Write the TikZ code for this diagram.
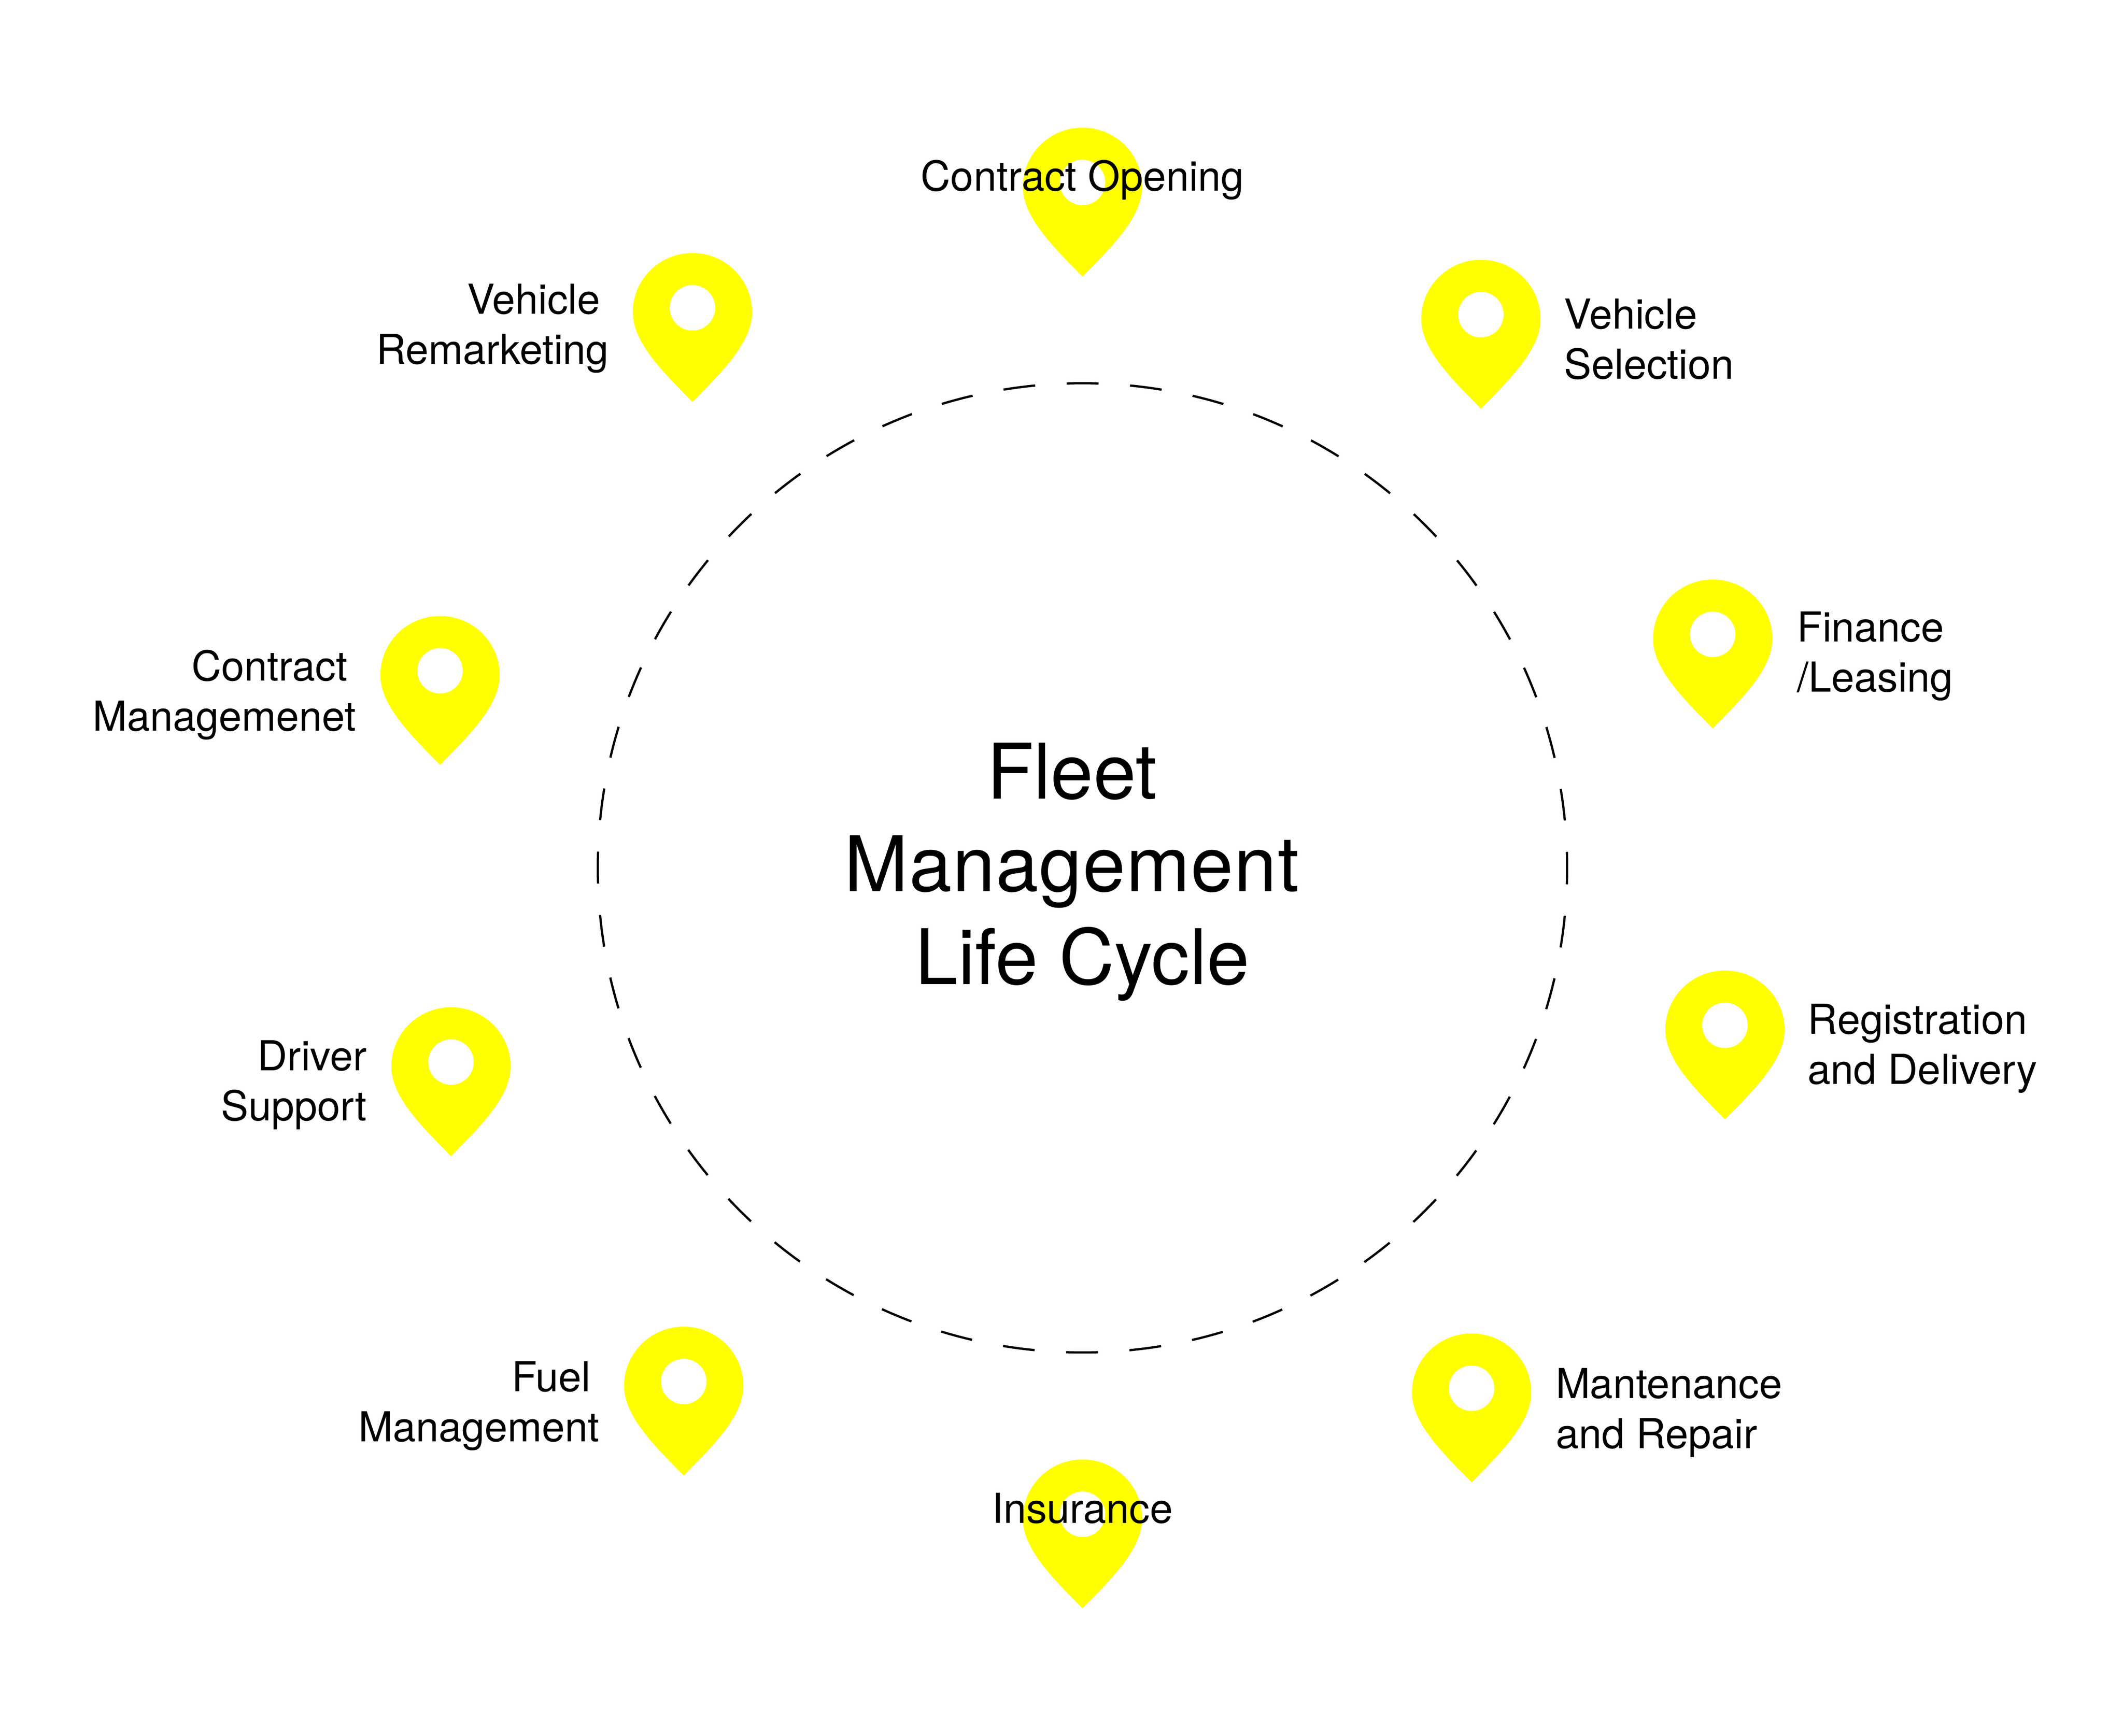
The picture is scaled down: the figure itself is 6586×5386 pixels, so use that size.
\documentclass[tikz,border=0pt]{standalone}
\usepackage{fontspec}
\setmainfont{TeX Gyre Heros}
\begin{document}
\begin{tikzpicture}[x=1pt,y=-1pt,
  pinbody/.style={fill=pinyellow,draw=none},
  pinhole/.style={fill=white,draw=none},
  ring/.style={draw=black,line width=7pt,dash pattern=on 99pt off 97.8pt,dash phase=49.5pt},
  stagelabel/.style={font=\fontsize{128}{155.5}\selectfont,inner sep=0pt},
  titlelabel/.style={font=\fontsize{238}{288}\selectfont,inner sep=0pt,align=center},
  lefttext/.style={stagelabel,align=left,anchor=base west},
  righttext/.style={stagelabel,align=right,anchor=base east},
  pic-pin/.pic={
    \fill[pinbody] (0,462) .. controls (85,375) and (185,280) .. (185,184)
      .. controls (185,82) and (102,0) .. (0,0)
      .. controls (-102,0) and (-185,82) .. (-185,184)
      .. controls (-185,280) and (-85,375) .. (0,462) -- cycle;
    \fill[pinhole] (0,170) circle[radius=70.5pt];
  }]
\definecolor{pinyellow}{HTML}{FFFF00}
\newcommand{\tailgap}{\hspace*{27pt}}
\useasboundingbox (0,0) rectangle (6586,5386);
\fill[white] (0,0) rectangle (6586,5386);
\coordinate (hub) at (3358,2692.5);
\draw[ring] (hub) circle[radius=1503.5pt];
\foreach \px/\py in {3358/396,4594/806,5313/1798,5351/3011,4565/4137,3358/4528,2121/4116,1399/3125,1365/1911,2148/785}
  \pic at (\px,\py) {pic-pin};
\node[titlelabel,anchor=base] (title) at (3358,3054) {Fleet\ \mbox{}\\{\addfontfeature{LetterSpace=1}Management}\ \mbox{}\\Life Cycle};
\node[stagelabel,anchor=base] (open) at (3358,592) {Contract Opening};
\node[lefttext] (sel) at (4852,1176) {Vehicle\\Selection};
\node[lefttext] (fin) at (5575,2146) {Finance\\/Leasing};
\node[lefttext] (reg) at (5608,3364) {Registration\\and Delivery};
\node[lefttext] (man) at (4826,4494) {Mantenance\\and Repair};
\node[stagelabel,anchor=base] (ins) at (3358,4725) {Insurance};
\node[righttext] (fuel) at (1859,4473) {Fuel\tailgap\\Management};
\node[righttext] (drv) at (1138,3477) {Driver\\Support};
\node[righttext] (con) at (1105,2268) {Contract\tailgap\\Managemenet};
\node[righttext] (rem) at (1889,1130) {Vehicle\tailgap\\Remarketing};
\end{tikzpicture}
\end{document}
